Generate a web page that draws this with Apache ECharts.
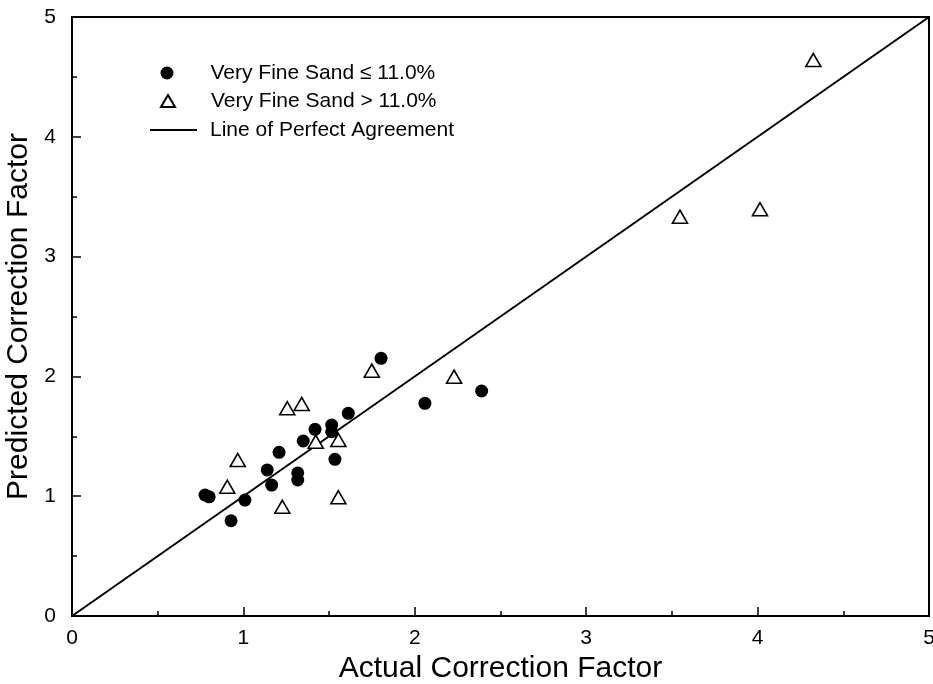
<!DOCTYPE html>
<html>
<head>
<meta charset="utf-8">
<script src="https://cdn.jsdelivr.net/npm/echarts@6/dist/echarts.min.js"></script>
<style>html,body{margin:0;padding:0;background:#fff}#c{width:933px;height:684px}</style>
</head>
<body>
<div id="c"></div>
<script>
// Very Fine Sand <= 11.0% (filled circles)
const lowSandX = [1.803, 2.059, 1.612, 1.515, 1.515, 1.418, 1.349, 1.208, 1.534, 1.139, 1.317, 1.317, 1.165, 0.776, 0.800, 1.009, 0.928, 2.390];
const lowSandY = [2.151, 1.775, 1.692, 1.594, 1.538, 1.558, 1.461, 1.366, 1.308, 1.219, 1.194, 1.135, 1.093, 1.010, 0.995, 0.968, 0.795, 1.878];
// Very Fine Sand > 11.0% (open triangles)
const highSandX = [1.749, 1.256, 1.340, 1.422, 1.554, 0.967, 0.906, 1.227, 1.554, 2.229, 4.325, 3.547, 4.014];
const highSandY = [2.048, 1.734, 1.770, 1.455, 1.469, 1.302, 1.079, 0.912, 0.991, 1.998, 4.641, 3.333, 3.395];
// Line of perfect agreement
const lineX = [0, 5];
const lineY = [0, 5];
const xTicks = [0, 1, 2, 3, 4, 5];
const yTicks = [0, 1, 2, 3, 4, 5];

const seriesNames = ['Very Fine Sand \u2264 11.0%', 'Very Fine Sand > 11.0%', 'Line of Perfect Agreement'];
const FONT = '"Liberation Sans", Arial, Helvetica, sans-serif';

const zip = (a, b) => a.map((v, i) => [v, b[i]]);

const axisCommon = {
  min: 0, max: 5, interval: 1,
  axisLine: { show: true, lineStyle: { color: '#000', width: 2 } },
  axisTick: { show: true, inside: true, length: 9, lineStyle: { color: '#000', width: 1.5 } },
  minorTick: { show: true, splitNumber: 2, length: 5, lineStyle: { color: '#000', width: 1.5 } },
  splitLine: { show: false },
  axisLabel: { color: '#000', fontSize: 21, fontFamily: FONT },
  nameLocation: 'middle',
  nameTextStyle: { color: '#000', fontSize: 30, fontFamily: FONT }
};

const legendText = (pad) => ({ color: '#000', fontSize: 21, fontFamily: FONT, padding: [0, 0, 0, pad] });

const chart = echarts.init(document.getElementById('c'), null, { renderer: 'canvas' });
chart.setOption({
  backgroundColor: '#fff',
  animation: false,
  grid: { left: 72, right: 4, top: 17, bottom: 68, show: true, borderColor: '#000', borderWidth: 2, containLabel: false, outerBoundsMode: 'none' },
  xAxis: Object.assign({}, axisCommon, {
    type: 'value', name: 'Actual Correction Factor', nameGap: 33,
    axisLabel: Object.assign({}, axisCommon.axisLabel, { margin: 12, formatter: v => xTicks.includes(v) ? String(v) : '' })
  }),
  yAxis: Object.assign({}, axisCommon, {
    type: 'value', name: 'Predicted Correction Factor', nameGap: 36,
    axisLabel: Object.assign({}, axisCommon.axisLabel, { margin: 16, formatter: v => yTicks.includes(v) ? String(v) : '' })
  }),
  legend: [
    {
      left: 160.5, top: 62.5, padding: 0, itemWidth: 13, itemHeight: 13, selectedMode: false,
      textStyle: legendText(32), data: [{ name: seriesNames[0], icon: 'circle' }]
    },
    {
      left: 160, top: 90.5, padding: 0, itemWidth: 14, itemHeight: 12, selectedMode: false,
      textStyle: legendText(31), data: [{ name: seriesNames[1], icon: 'triangle' }]
    },
    {
      left: 150, top: 119.5, padding: 0, itemWidth: 47, itemHeight: 2, selectedMode: false,
      textStyle: legendText(8), data: [{ name: seriesNames[2], icon: 'rect' }]
    }
  ],
  series: [
    {
      name: seriesNames[2], type: 'line', data: zip(lineX, lineY), symbol: 'none', showSymbol: false,
      lineStyle: { color: '#000', width: 2 }, itemStyle: { color: '#000' }, z: 1
    },
    {
      name: seriesNames[0], type: 'scatter', data: zip(lowSandX, lowSandY),
      symbol: 'circle', symbolSize: 13,
      itemStyle: { color: '#000', opacity: 1 }, z: 3
    },
    {
      name: seriesNames[1], type: 'scatter', data: zip(highSandX, highSandY),
      symbol: 'triangle', symbolSize: [15, 13],
      itemStyle: { color: '#fff', borderColor: '#000', borderWidth: 1.6, opacity: 1 }, z: 2
    }
  ]
});
</script>
</body>
</html>
